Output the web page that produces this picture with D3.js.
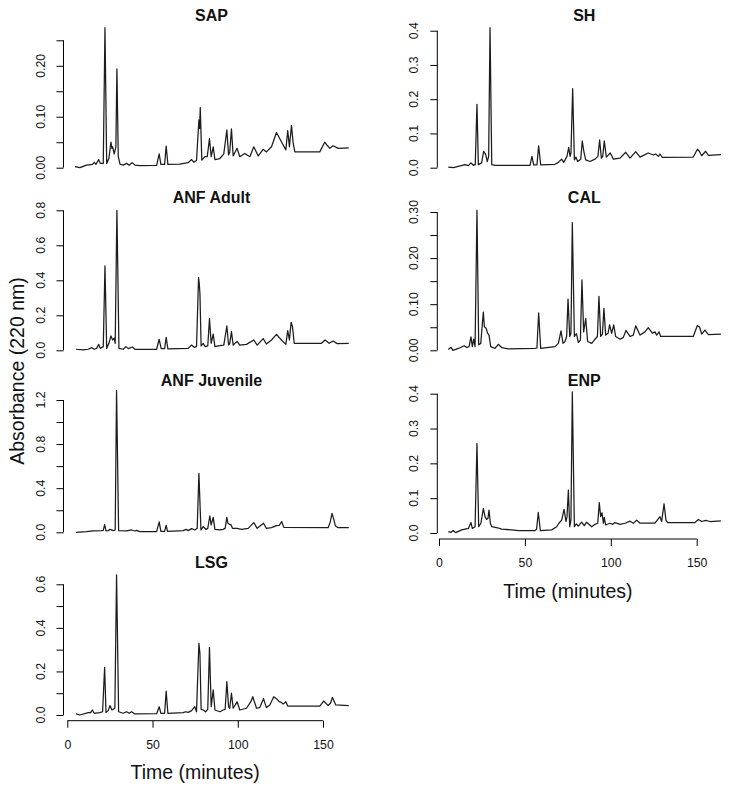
<!DOCTYPE html>
<html><head><meta charset="utf-8">
<script src="https://cdn.jsdelivr.net/npm/d3@7"></script>
<style>
html,body{margin:0;padding:0;background:#fff;}
svg text{font-family:"Liberation Sans",Arial,Helvetica,sans-serif;fill:#111;}
</style></head><body>
<svg id="chart" width="731" height="793"></svg>
<script>
// ---- Data: [time (min), absorbance] ----
const SAP = [[4.5,0.002],[7.4,0],[11.3,0.005],[14.8,0.0065],[15.8,0.0105],[16.8,0.0065],[18.4,0.016],[19.3,0.0085],[21.1,0.0085],[22.1,0.275],[23.1,0.0085],[24.4,0.018],[25.6,0.05],[26.2,0.038],[26.6,0.041],[27.5,0.027],[28.5,0.041],[29.1,0.194],[29.9,0.022],[30.9,0.007],[32.8,0.005],[34.8,0.0085],[36.3,0.005],[38.1,0.01],[39.7,0.005],[42.6,0.004],[52.4,0.0045],[53.9,0.027],[54.9,0.0065],[57.1,0.0065],[58.0,0.0425],[59.0,0.0065],[66.0,0.007],[70.9,0.0098],[72.9,0.016],[74.2,0.011],[75.8,0.014],[77.2,0.094],[77.6,0.077],[78.0,0.118],[78.9,0.015],[80.7,0.0216],[82.1,0.0216],[83.4,0.057],[84.4,0.0216],[85.6,0.041],[86.6,0.016],[89.5,0.018],[91.8,0.027],[93.6,0.074],[94.6,0.025],[95.3,0.031],[96.3,0.076],[97.3,0.023],[99.6,0.038],[101.2,0.0216],[104.1,0.028],[107.1,0.0216],[109.4,0.041],[112.0,0.023],[114.9,0.036],[116.8,0.031],[119.8,0.041],[122.7,0.069],[125.6,0.051],[128.2,0.035],[129.3,0.073],[130.3,0.041],[131.5,0.083],[132.5,0.048],[133.5,0.031],[148.1,0.031],[151.0,0.05],[152.4,0.044],[154.0,0.038],[155.9,0.043],[158.9,0.038],[165.1,0.039]];
const SH = [[5.4,0.002],[8.3,0],[11.3,0.004],[15.1,0.009],[17.1,0.006],[18.6,0.014],[20.0,0.007],[21.1,0.009],[22.1,0.185],[22.9,0.009],[24.8,0.014],[26.0,0.048],[27.2,0.038],[28.1,0.018],[28.9,0.033],[29.7,0.409],[30.7,0.009],[32.6,0.007],[53.0,0.007],[54.1,0.033],[55.1,0.008],[57.0,0.008],[58.0,0.064],[59.2,0.008],[67.5,0.01],[69.5,0.0155],[71.4,0.025],[72.6,0.0155],[74.5,0.033],[75.5,0.059],[76.3,0.033],[76.8,0.043],[77.8,0.231],[78.8,0.023],[79.7,0.031],[80.7,0.018],[82.5,0.025],[83.4,0.078],[84.4,0.045],[85.4,0.023],[87.9,0.018],[90.8,0.025],[92.5,0.033],[93.5,0.081],[94.5,0.028],[95.3,0.033],[96.2,0.078],[97.4,0.031],[99.7,0.043],[101.5,0.025],[105.4,0.028],[108.7,0.045],[111.2,0.028],[114.5,0.047],[117.0,0.031],[121.8,0.043],[124.8,0.037],[126.1,0.04],[127.7,0.033],[128.6,0.04],[130.0,0.03],[148.0,0.031],[150.4,0.054],[151.5,0.048],[152.9,0.035],[155.2,0.048],[156.8,0.036],[164.1,0.038]];
const ANF_ADULT = [[5.1,0.006],[9.4,0.002],[12.3,0.006],[14.3,0.015],[15.8,0.006],[17.2,0.011],[18.4,0.034],[19.3,0.011],[21.1,0.021],[22.1,0.482],[23.1,0.011],[24.4,0.04],[25.6,0.082],[26.6,0.059],[27.5,0.069],[28.1,0.04],[29.1,0.8],[30.3,0.011],[32.8,0.006],[34.4,0.021],[35.8,0.0095],[38.1,0.019],[39.7,0.006],[52.4,0.006],[53.9,0.063],[55.1,0.0095],[57.1,0.0095],[58.0,0.074],[59.0,0.0076],[70.9,0.011],[72.9,0.03],[74.4,0.017],[75.8,0.021],[77.0,0.415],[77.4,0.383],[77.8,0.326],[78.5,0.025],[79.7,0.04],[80.9,0.021],[82.4,0.025],[83.4,0.181],[84.4,0.04],[85.6,0.093],[86.6,0.021],[89.5,0.027],[91.8,0.03],[93.6,0.139],[94.6,0.03],[95.3,0.04],[96.3,0.107],[97.3,0.03],[99.6,0.051],[101.2,0.029],[105.1,0.034],[109.4,0.059],[111.4,0.03],[114.9,0.067],[116.8,0.036],[119.8,0.059],[122.7,0.091],[125.6,0.059],[128.2,0.034],[129.3,0.112],[130.3,0.059],[131.3,0.16],[132.1,0.135],[133.1,0.04],[149.1,0.04],[151.2,0.059],[153.6,0.04],[155.9,0.053],[158.3,0.038],[165.1,0.04]];
const ANF_JUV = [[5.1,0],[11.3,0.006],[15.2,0.012],[20.1,0.015],[21.1,0.018],[21.9,0.07],[22.7,0.012],[24.0,0.015],[25.0,0.027],[27.0,0.015],[28.1,0.021],[28.9,1.285],[30.1,0.015],[34.8,0.012],[37.7,0.021],[39.7,0.012],[40.6,0.018],[42.6,0.006],[52.4,0.006],[53.9,0.094],[54.9,0.009],[57.1,0.009],[58.0,0.063],[58.8,0.009],[68.0,0.015],[69.6,0.027],[70.9,0.015],[72.9,0.033],[74.8,0.021],[76.2,0.036],[77.2,0.535],[78.4,0.021],[79.7,0.051],[81.3,0.027],[82.4,0.036],[83.6,0.148],[84.4,0.067],[85.6,0.136],[86.6,0.027],[89.5,0.021],[91.4,0.027],[92.6,0.036],[93.6,0.136],[94.2,0.082],[95.2,0.073],[96.1,0.067],[96.9,0.036],[99.6,0.036],[102.2,0.027],[106.1,0.036],[109.4,0.088],[111.4,0.036],[115.1,0.082],[116.8,0.036],[119.8,0.042],[122.7,0.06],[124.3,0.063],[125.8,0.097],[127.0,0.045],[153.0,0.042],[154.2,0.09],[155.3,0.172],[156.3,0.12],[157.2,0.06],[158.9,0.042],[165.1,0.042]];
const LSG = [[5.1,0.005],[7.4,0],[12.3,0.011],[13.7,0.011],[14.7,0.023],[15.8,0.008],[19.1,0.011],[20.7,0.015],[21.9,0.219],[22.7,0.011],[24.0,0.02],[25.0,0.043],[26.2,0.023],[27.9,0.031],[28.9,0.643],[30.1,0.015],[32.8,0.008],[34.8,0.015],[36.3,0.008],[37.7,0.015],[39.7,0.005],[52.4,0.006],[53.9,0.038],[54.9,0.008],[57.1,0.008],[58.0,0.11],[59.0,0.008],[68.0,0.011],[69.4,0.015],[70.9,0.012],[72.9,0.02],[74.8,0.038],[75.8,0.015],[77.2,0.329],[77.8,0.283],[78.5,0.026],[79.7,0.023],[81.1,0.015],[82.4,0.026],[83.4,0.311],[84.4,0.038],[85.6,0.115],[86.6,0.023],[89.5,0.015],[91.4,0.023],[92.6,0.026],[93.6,0.153],[94.6,0.038],[95.3,0.031],[96.3,0.1],[97.3,0.031],[99.6,0.061],[101.2,0.023],[105.1,0.031],[107.7,0.061],[108.8,0.084],[111.0,0.031],[112.9,0.034],[115.1,0.075],[116.8,0.034],[118.8,0.046],[121.1,0.084],[123.1,0.072],[124.3,0.061],[125.6,0.058],[126.6,0.05],[128.2,0.061],[129.3,0.041],[148.1,0.041],[150.4,0.064],[152.9,0.044],[154.4,0.054],[155.5,0.081],[157.5,0.046],[165.1,0.043]];
const CAL = [[5.4,0.002],[7.0,0.0065],[8.1,0],[11.3,0.004],[14.7,0.01],[16.1,0.006],[17.5,0.008],[18.6,0.029],[19.4,0.008],[20.2,0.024],[21.0,0.008],[22.1,0.304],[23.1,0.012],[24.3,0.015],[25.8,0.083],[26.4,0.051],[27.4,0.048],[28.3,0.037],[29.1,0.033],[30.1,0.008],[32.6,0.004],[34.5,0.013],[36.5,0.006],[40.4,0.003],[55.9,0.004],[57.0,0.005],[58.0,0.081],[59.2,0.004],[67.5,0.008],[69.5,0.015],[71.0,0.042],[72.2,0.015],[73.3,0.019],[74.3,0.03],[75.1,0.111],[76.1,0.03],[76.8,0.037],[77.6,0.277],[78.8,0.03],[80.0,0.036],[81.1,0.017],[82.3,0.022],[83.2,0.153],[84.2,0.04],[85.4,0.069],[86.5,0.019],[88.9,0.015],[90.8,0.024],[92.2,0.03],[93.1,0.117],[94.1,0.03],[95.1,0.035],[96.0,0.091],[97.0,0.033],[98.4,0.037],[99.3,0.055],[100.5,0.037],[101.7,0.055],[102.8,0.03],[105.4,0.024],[107.3,0.028],[108.8,0.043],[111.2,0.03],[113.1,0.033],[114.5,0.053],[117.0,0.033],[119.9,0.04],[121.8,0.049],[124.2,0.037],[125.7,0.04],[126.7,0.033],[128.1,0.04],[129.0,0.03],[148.0,0.03],[149.4,0.044],[150.4,0.054],[151.7,0.05],[152.9,0.035],[154.8,0.044],[156.8,0.034],[164.1,0.035]];
const ENP = [[5.4,0.004],[7.0,0.002],[8.3,0.007],[9.7,0.001],[13.2,0.009],[17.1,0.013],[18.6,0.03],[19.4,0.013],[21.0,0.018],[22.1,0.257],[23.1,0.018],[24.4,0.028],[25.8,0.07],[26.8,0.047],[27.7,0.039],[28.5,0.042],[29.1,0.066],[29.9,0.028],[30.7,0.018],[34.1,0.015],[36.5,0.011],[42.3,0.009],[46.2,0.007],[55.9,0.007],[56.8,0.011],[57.8,0.059],[59.0,0.007],[65.6,0.009],[68.5,0.018],[69.8,0.028],[71.4,0.037],[72.8,0.068],[73.9,0.033],[74.5,0.047],[75.3,0.123],[76.1,0.018],[76.8,0.037],[77.6,0.405],[78.8,0.018],[79.9,0.026],[81.1,0.02],[83.0,0.031],[84.6,0.021],[85.9,0.031],[87.3,0.025],[88.9,0.018],[90.8,0.025],[92.4,0.028],[93.3,0.087],[94.1,0.047],[94.9,0.058],[95.7,0.028],[96.2,0.045],[97.0,0.023],[99.5,0.028],[101.1,0.025],[102.4,0.03],[105.4,0.025],[108.3,0.028],[111.2,0.034],[113.1,0.028],[115.1,0.037],[117.0,0.028],[125.7,0.028],[128.6,0.047],[129.6,0.033],[131.0,0.084],[132.1,0.037],[133.1,0.03],[149.0,0.03],[151.0,0.039],[152.9,0.033],[155.2,0.036],[157.7,0.033],[164.1,0.035]];

const xTicks = [0, 50, 100, 150];
const yLabel = "Absorbance (220 nm)";
const xLabel = "Time (minutes)";

// panel definitions: title, data, y tick step, label step, decimals, top tick
const panels = [
  {title:"SAP",          data:SAP,       col:0,row:0, top:0.25, step:0.05, lstep:0.10, dec:2},
  {title:"ANF Adult",    data:ANF_ADULT, col:0,row:1, top:0.8,  step:0.2,  lstep:0.2,  dec:1},
  {title:"ANF Juvenile", data:ANF_JUV,   col:0,row:2, top:1.2,  step:0.2,  lstep:0.4,  dec:1},
  {title:"LSG",          data:LSG,       col:0,row:3, top:0.6,  step:0.1,  lstep:0.2,  dec:1, xaxis:true},
  {title:"SH",           data:SH,        col:1,row:0, top:0.4,  step:0.1,  lstep:0.1,  dec:1},
  {title:"CAL",          data:CAL,       col:1,row:1, top:0.30, step:0.05, lstep:0.10, dec:2},
  {title:"ENP",          data:ENP,       col:1,row:2, top:0.4,  step:0.1,  lstep:0.1,  dec:1, xaxis:true}
];

// ---- Layout ----
const colLayout = [
  {axisX:63.5, x0:67.3, x150:323,  titleX:211.5, labX:45.3},
  {axisX:437.3, x0:439, x150:696.7, titleX:584.3, labX:417.8}
];
// zero line and top-tick pixel per panel (row/col)
const rowZero = {"0-0":167.7,"0-1":350.3,"0-2":532.3,"0-3":715,"1-0":167.7,"1-1":350.3,"1-2":533};
const rowTop  = {"0-0":40.3,"0-1":210.3,"0-2":400,"0-3":584.3,"1-0":30.7,"1-1":212,"1-2":393.7};
const titleY = [20.5, 203, 385.5, 568];
const xAxisY = {0:720.7, 1:539};

const svg = d3.select("#chart");

panels.forEach(p => {
  const c = colLayout[p.col];
  const key = p.col + "-" + p.row;
  const x = d3.scaleLinear().domain([0,150]).range([c.x0, c.x150]);
  const y = d3.scaleLinear().domain([0,p.top]).range([rowZero[key], rowTop[key]]);
  const g = svg.append("g");

  // trace
  const line = d3.line().x(d => x(d[0])).y(d => y(d[1]));
  g.append("path").datum(p.data).attr("d", line)
    .attr("fill","none").attr("stroke","#1c1c1c").attr("stroke-width",1.25)
    .attr("stroke-linejoin","round");

  // y axis
  const n = Math.round(p.top / p.step);
  const ticks = d3.range(n+1).map(i => +(i*p.step).toFixed(4));
  const ax = g.append("g").attr("transform",`translate(${c.axisX},0)`)
    .call(d3.axisLeft(y).tickValues(ticks).tickSize(7).tickFormat(() => ""));
  ax.select(".domain").attr("d", `M-7,${y(0)}H0V${y(p.top)}H-7`).attr("stroke","#000").attr("stroke-width",1)
    .attr("d", `M0,${y(0)}V${y(p.top)}`);
  ax.selectAll(".tick line").attr("stroke","#000").attr("stroke-width",1);
  ticks.forEach(v => {
    const r = v / p.lstep;
    if (Math.abs(r - Math.round(r)) < 1e-6) {
      g.append("text")
        .attr("transform",`translate(${c.labX},${y(v)}) rotate(-90)`)
        .attr("text-anchor","middle").attr("font-size",12.3)
        .text(v.toFixed(p.dec));
    }
  });

  // title
  g.append("text").attr("x", c.titleX).attr("y", titleY[p.row])
    .attr("text-anchor","middle").attr("font-weight","bold").attr("font-size",16)
    .text(p.title);

  // x axis
  if (p.xaxis) {
    const ay = xAxisY[p.col];
    const xa = g.append("g").attr("transform",`translate(0,${ay})`)
      .call(d3.axisBottom(x).tickValues(xTicks).tickSize(7).tickFormat(d3.format("d")));
    xa.select(".domain").attr("d", `M${x(0)},0H${x(150)}`).attr("stroke","#000");
    xa.selectAll(".tick line").attr("stroke","#000");
    xa.selectAll(".tick text").attr("font-size",12.3).attr("dy",null).attr("y",28)
      .attr("font-family",'"Liberation Sans",Arial,sans-serif').attr("fill","#111");
    g.append("text").attr("x", x(75)).attr("y", ay + 58.6)
      .attr("text-anchor","middle").attr("font-size",19.5).text(xLabel);
  }
});

// shared y label
svg.append("text").attr("transform","translate(24,371) rotate(-90)")
  .attr("text-anchor","middle").attr("font-size",19.5).text(yLabel);
</script>
</body></html>
